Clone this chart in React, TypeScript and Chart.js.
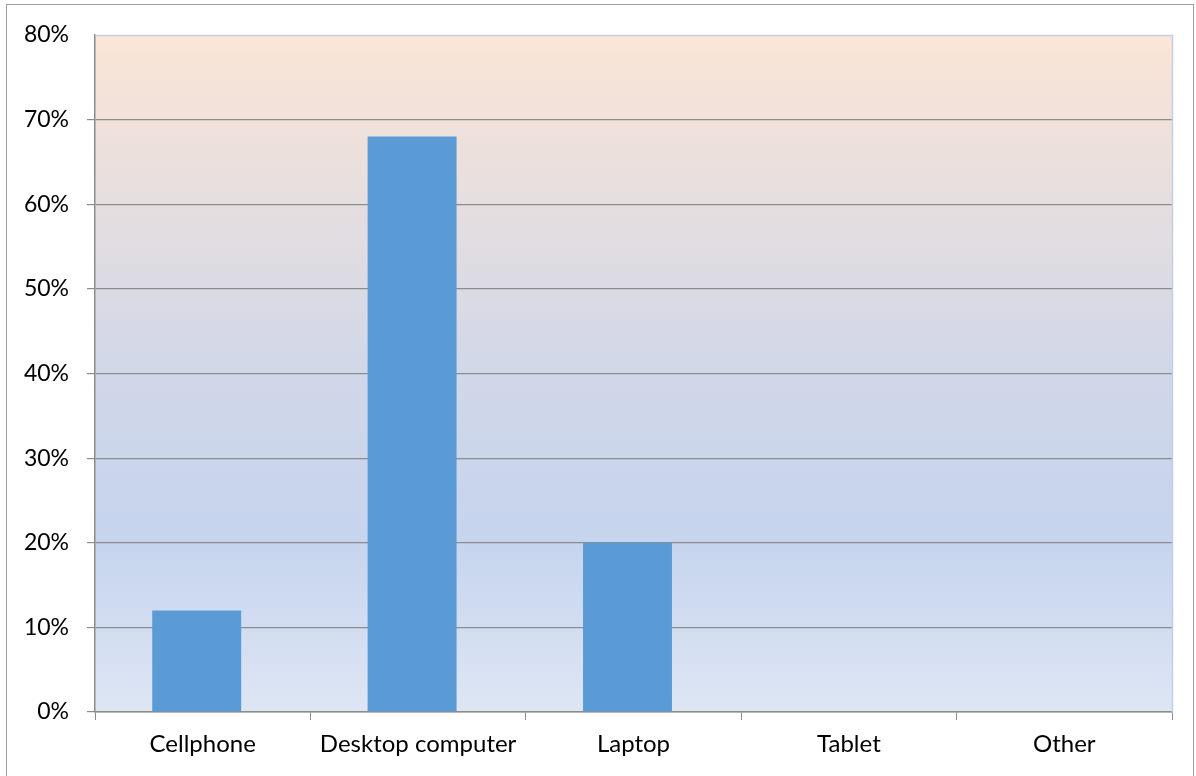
import React, { useEffect, useRef } from "react";
import { Chart, registerables } from "chart.js";

Chart.register(...registerables);

const categories = ["Cellphone", "Desktop computer", "Laptop", "Tablet", "Other"];
const shares = [0.12, 0.68, 0.2, 0, 0];
const yMin = 0;
const yMax = 0.8;
const yStep = 0.1;

const FONT = "Lato";

const bgPlugin = {
  id: "plotBg",
  beforeDraw(chart: any) {
    const { ctx, chartArea } = chart;
    const { left, top, right, bottom } = chartArea;
    ctx.save();
    const g = ctx.createLinearGradient(0, top, 0, bottom);
    g.addColorStop(0, "#fbe5d6");
    g.addColorStop(0.5, "#d0d7e8");
    g.addColorStop(0.75, "#c6d4ee");
    g.addColorStop(1, "#dee6f4");
    ctx.fillStyle = g;
    ctx.fillRect(left, top, right - left, bottom - top);
    ctx.restore();
  },
  beforeDatasetsDraw(chart: any) {
    chart.ctx.save();
    chart.ctx.translate(-6, 0);
  },
  afterDatasetsDraw(chart: any) {
    chart.ctx.restore();
  },
  afterDraw(chart: any) {
    const { ctx, chartArea } = chart;
    const { left, top, right, bottom } = chartArea;
    ctx.save();
    ctx.strokeStyle = "#c3cfe9";
    ctx.lineWidth = 1.5;
    ctx.beginPath();
    ctx.moveTo(left, top + 0.5);
    ctx.lineTo(right + 0.5, top + 0.5);
    ctx.lineTo(right + 0.5, bottom);
    ctx.stroke();
    ctx.restore();
  },
};

export default function App() {
  const ref = useRef<HTMLCanvasElement>(null);
  useEffect(() => {
    if (!ref.current) return;
    const chart = new Chart(ref.current, {
      type: "bar",
      data: {
        labels: categories,
        datasets: [
          {
            data: shares,
            backgroundColor: "#5b9bd5",
            borderWidth: 0,
            categoryPercentage: 1,
            barPercentage: 0.413,
          },
        ],
      },
      options: {
        animation: false,
        responsive: false,
        events: [],
        layout: { padding: { top: 35, right: 24, left: 0, bottom: 0 } },
        plugins: { legend: { display: false }, tooltip: { enabled: false } },
        scales: {
          x: {
            offset: true,
            grid: {
              offset: true,
              drawOnChartArea: false,
              drawTicks: true,
              tickLength: 8,
              color: "#8c8c8c",
            },
            border: { display: true, color: "#8c8c8c", width: 1.5 },
            ticks: {
              color: "#000",
              font: { family: FONT, size: 24 },
              padding: 10,
              maxRotation: 0,
            },
            afterFit(scale: any) {
              scale.height = 64;
            },
          },
          y: {
            min: yMin,
            max: yMax,
            grid: {
              color: (c: any) => (c.tick && c.tick.value >= yMax - 1e-9 ? "rgba(0,0,0,0)" : "#8c8c8c"),
              lineWidth: 1.2,
              tickLength: 8,
              drawTicks: true,
            },
            border: { display: true, color: "#8c8c8c", width: 1.5 },
            ticks: {
              stepSize: yStep,
              color: "#000",
              font: { family: FONT, size: 23 },
              padding: 18,
              callback: (v: any) => Math.round(Number(v) * 100) + "%",
            },
            afterFit(scale: any) {
              scale.width = 95;
            },
          },
        },
      },
      plugins: [bgPlugin],
    });
    return () => chart.destroy();
  }, []);
  return (
    <div style={{ position: "fixed", left: 0, top: 0, width: 1196, height: 776, background: "#fff" }}>
      <div
        style={{
          position: "absolute",
          left: 6,
          top: 4,
          width: 1188,
          height: 790,
          border: "1.5px solid #a0a0a0",
          boxSizing: "border-box",
        }}
      />
      <canvas ref={ref} width={1196} height={776} style={{ position: "absolute", left: 0, top: 0 }} />
    </div>
  );
}
